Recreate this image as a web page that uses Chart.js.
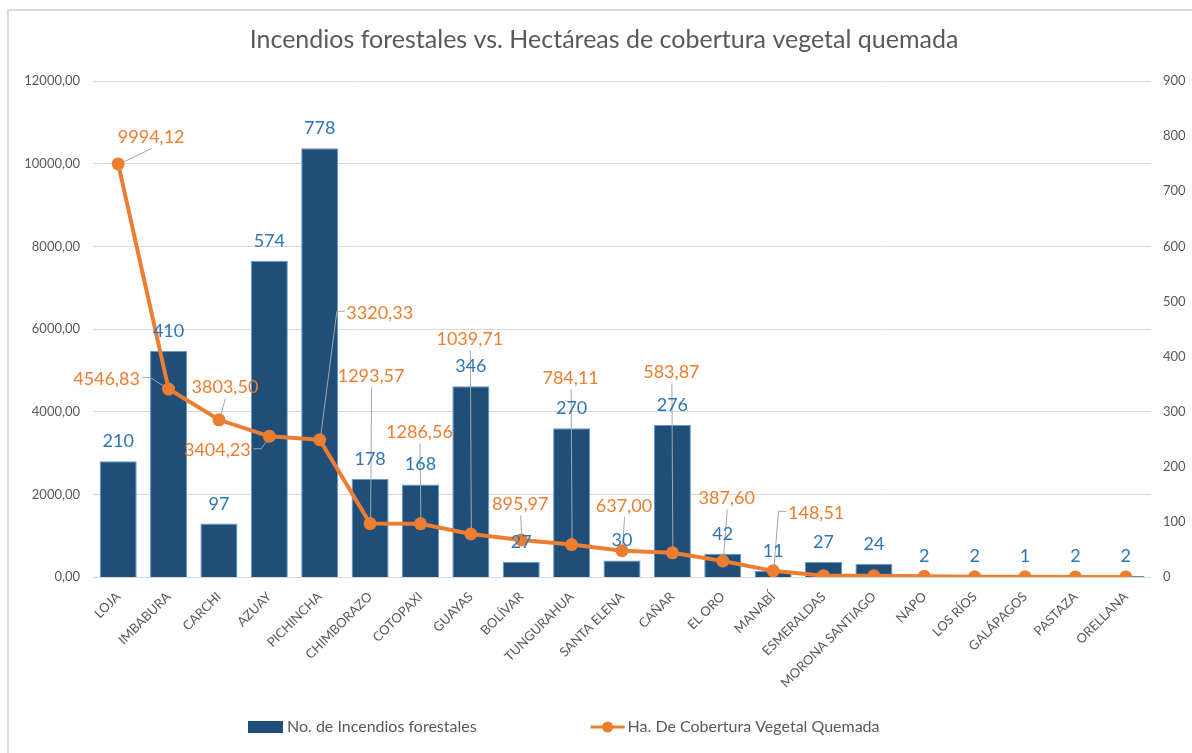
<!DOCTYPE html>
<html>
<head>
<meta charset="utf-8">
<script src="https://cdn.jsdelivr.net/npm/chart.js@4.4.1/dist/chart.umd.min.js"></script>
<style>
  html, body { margin: 0; padding: 0; background: #fff; }
</style>
</head>
<body>
<canvas id="grafico" width="1192" height="753"></canvas>
<script>
// datos
var provincias = ['LOJA', 'IMBABURA', 'CARCHI', 'AZUAY', 'PICHINCHA', 'CHIMBORAZO', 'COTOPAXI',
  'GUAYAS', 'BOLÍVAR', 'TUNGURAHUA', 'SANTA ELENA', 'CAÑAR', 'EL ORO', 'MANABÍ', 'ESMERALDAS',
  'MORONA SANTIAGO', 'NAPO', 'LOS RÍOS', 'GALÁPAGOS', 'PASTAZA', 'ORELLANA'];
var incendios = [210, 410, 97, 574, 778, 178, 168, 346, 27, 270, 30, 276, 42, 11, 27, 24, 2, 2, 1, 2, 2];
var hectareas = [9994.12, 4546.83, 3803.50, 3404.23, 3320.33, 1293.57, 1286.56, 1039.71, 895.97, 784.11,
  637.00, 583.87, 387.60, 148.51, 32, 28, 18, 6, 4, 3, 2];
var ticksHa = { min: 0, max: 12000, paso: 2000 };
var ticksNum = { min: 0, max: 900, paso: 100 };

// desplazamiento (px) de cada etiqueta naranja respecto a su punto; null = sin etiqueta
var despHa = [[33, -27], [-62, -10], [6, -33], [-52, 14], [60, -127], [1, -148], [-1, -92],
  [-1, -195], [-1, -36], [-1, -167], [2, -45], [-1, -181], [4, -63], [43, -58],
  null, null, null, null, null, null, null];

var AZUL = '#1f4e79', NARANJA = '#ed7d31', GRIS = '#595959', FUENTE = 'Lato';

function coma(v) { return v.toFixed(2).replace('.', ','); }

var marco = {
  id: 'marco',
  beforeDraw: function (chart) {
    var ctx = chart.ctx;
    ctx.save();
    ctx.fillStyle = '#fff';
    ctx.fillRect(0, 0, chart.width, chart.height);
    ctx.fillStyle = '#d9d9d9';
    ctx.fillRect(7, 9, 2, chart.height - 9);
    ctx.fillRect(7, 9, chart.width - 7, 2);
    ctx.restore();
  }
};

var etiquetas = {
  id: 'etiquetas',
  afterDatasetsDraw: function (chart) {
    var ctx = chart.ctx;
    var barras = chart.getDatasetMeta(0).data;
    var puntos = chart.getDatasetMeta(1).data;
    ctx.save();
    ctx.textAlign = 'center';
    ctx.textBaseline = 'alphabetic';

    // lineas guia
    ctx.font = '18px ' + FUENTE;
    ctx.strokeStyle = '#a6a6a6';
    ctx.lineWidth = 1;
    puntos.forEach(function (p, i) {
      var d = despHa[i];
      if (!d) return;
      var w = ctx.measureText(coma(hectareas[i])).width;
      var cx = p.x + d[0], cy = p.y + d[1];
      var ruta = [];
      if (Math.abs(d[0]) > w / 2 + 4) {
        var lado = d[0] > 0 ? cx - w / 2 - 2 : cx + w / 2 + 2;
        var stub = d[0] > 0 ? lado - 8 : lado + 8;
        ruta.push([lado, cy - 2], [stub, cy - 2]);
      } else {
        ruta.push([cx, cy + 11]);
      }
      var ult = ruta[ruta.length - 1];
      var dx = p.x - ult[0], dy = p.y - ult[1], len = Math.sqrt(dx * dx + dy * dy);
      if (len < 10) return;
      ruta.push([p.x - dx / len * 6, p.y - dy / len * 6]);
      ctx.beginPath();
      ctx.moveTo(ruta[0][0] + 0.5, ruta[0][1] + 0.5);
      for (var k = 1; k < ruta.length; k++) ctx.lineTo(ruta[k][0] + 0.5, ruta[k][1] + 0.5);
      ctx.stroke();
    });

    // valores de barras
    ctx.fillStyle = '#2e75b6';
    barras.forEach(function (b, i) {
      ctx.fillText(String(incendios[i]), b.x, b.y - 14);
    });

    // valores de la linea
    ctx.fillStyle = NARANJA;
    puntos.forEach(function (p, i) {
      var d = despHa[i];
      if (!d) return;
      ctx.fillText(coma(hectareas[i]), p.x + d[0], p.y + d[1] + 6);
    });
    ctx.restore();
  }
};

var leyenda = {
  id: 'leyenda',
  afterDraw: function (chart) {
    var ctx = chart.ctx;
    var y = 727;
    var x = 248;
    ctx.save();
    ctx.font = '16px ' + FUENTE;
    ctx.textBaseline = 'middle';
    ctx.textAlign = 'left';
    ctx.fillStyle = AZUL;
    ctx.fillRect(x, y - 6, 35, 12);
    ctx.fillStyle = GRIS;
    var t1 = chart.data.datasets[0].label;
    ctx.fillText(t1, x + 39, y);
    x = x + 39 + ctx.measureText(t1).width + 114;
    ctx.strokeStyle = NARANJA;
    ctx.lineWidth = 3;
    ctx.beginPath();
    ctx.moveTo(x, y);
    ctx.lineTo(x + 34, y);
    ctx.stroke();
    ctx.fillStyle = NARANJA;
    ctx.beginPath();
    ctx.arc(x + 17, y, 5.5, 0, Math.PI * 2);
    ctx.fill();
    ctx.fillStyle = GRIS;
    ctx.fillText(chart.data.datasets[1].label, x + 37, y);
    ctx.restore();
  }
};

var ctx = document.getElementById('grafico').getContext('2d');
var grafico = new Chart(ctx, {
  type: 'bar',
  data: {
    labels: provincias,
    datasets: [
      {
        type: 'bar',
        label: 'No. de Incendios forestales',
        data: incendios,
        yAxisID: 'y1',
        backgroundColor: AZUL,
        borderColor: '#5b9bd5',
        borderWidth: 1,
        categoryPercentage: 1,
        barPercentage: 0.735,
        order: 1
      },
      {
        type: 'line',
        label: 'Ha. De Cobertura Vegetal Quemada',
        data: hectareas,
        yAxisID: 'y',
        borderColor: NARANJA,
        backgroundColor: NARANJA,
        borderWidth: 4,
        pointRadius: 6.5,
        pointBackgroundColor: NARANJA,
        pointBorderWidth: 0,
        tension: 0,
        order: 0
      }
    ]
  },
  options: {
    responsive: false,
    devicePixelRatio: 1,
    animation: false,
    layout: { padding: { top: 0, left: 16, right: 0, bottom: 46 } },
    plugins: {
      legend: { display: false },
      tooltip: { enabled: false },
      title: {
        display: true,
        text: 'Incendios forestales vs. Hectáreas de cobertura vegetal quemada',
        color: GRIS,
        font: { family: FUENTE, size: 25, weight: 'normal' },
        padding: { top: 25, bottom: 26 }
      }
    },
    scales: {
      x: {
        offset: true,
        grid: { display: false },
        border: { display: false },
        ticks: {
          color: GRIS,
          font: { family: FUENTE, size: 13 },
          minRotation: 45,
          maxRotation: 45,
          autoSkip: false,
          padding: 4
        },
        afterFit: function (s) { s.height = 130; }
      },
      y: {
        position: 'left',
        min: ticksHa.min,
        max: ticksHa.max,
        ticks: {
          stepSize: ticksHa.paso,
          color: GRIS,
          font: { family: FUENTE, size: 13 },
          padding: 13,
          callback: function (v) { return coma(v); }
        },
        grid: { color: '#d9d9d9', drawTicks: false },
        border: { display: false },
        afterFit: function (s) { s.width = 77; }
      },
      y1: {
        position: 'right',
        min: ticksNum.min,
        max: ticksNum.max,
        ticks: {
          stepSize: ticksNum.paso,
          color: GRIS,
          font: { family: FUENTE, size: 13 },
          padding: 12
        },
        grid: { display: false, drawTicks: false },
        border: { display: false },
        afterFit: function (s) { s.width = 41; }
      }
    }
  },
  plugins: [marco, etiquetas, leyenda]
});
</script>
</body>
</html>
